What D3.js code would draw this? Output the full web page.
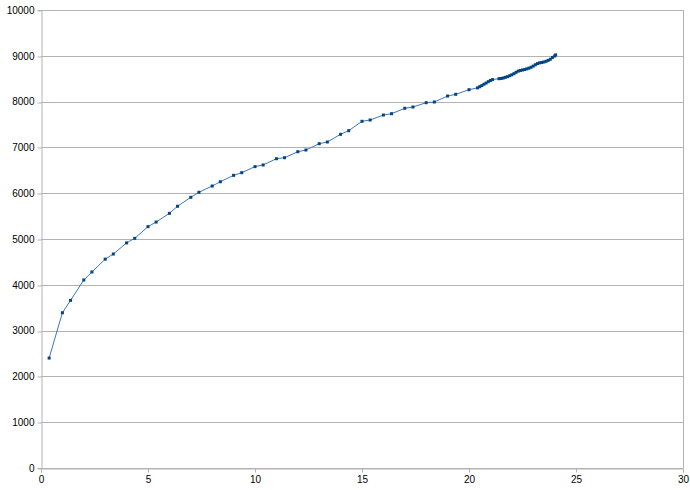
<!DOCTYPE html>
<html><head><meta charset="utf-8">
<script src="https://cdn.jsdelivr.net/npm/d3@7"></script>
<style>
html,body{margin:0;padding:0;background:#fff;}
svg{display:block;}
</style></head>
<body>
<svg id="chart" width="690" height="490"></svg>
<script>
const xValues = [0.38,1.0,1.38,2.0,2.38,3.0,3.38,4.0,4.38,5.0,5.38,6.0,6.38,7.0,7.38,8.0,8.38,9.0,9.38,10.0,10.38,11.0,11.38,12.0,12.38,13.0,13.38,14.0,14.38,15.0,15.38,16.0,16.38,17.0,17.38,18.0,18.38,19.0,19.38,20.0,
  20.4,20.5,20.6,20.7,20.8,20.9,21.0,21.1,
  21.4,21.5,21.6,21.7,21.8,21.9,22.0,22.1,22.2,22.3,22.4,22.5,22.6,22.7,22.8,22.9,23.0,23.1,23.2,23.3,23.4,23.5,23.6,23.7,23.8,23.9,24.0,24.05];
const yValues = [2400,3390,3660,4105,4280,4560,4672,4915,5015,5270,5370,5560,5715,5910,6020,6157,6250,6390,6448,6580,6616,6753,6775,6906,6943,7081,7118,7286,7365,7570,7598,7707,7736,7854,7882,7976,7991,8122,8159,8260,
  8300,8325,8350,8380,8405,8435,8460,8480,
  8500,8505,8515,8530,8545,8565,8585,8610,8640,8665,8680,8690,8700,8715,8730,8750,8775,8805,8830,8845,8855,8865,8880,8900,8925,8965,8995,9020];
const xTicks = [0,5,10,15,20,25,30];
const yTicks = [0,1000,2000,3000,4000,5000,6000,7000,8000,9000,10000];

const svg = d3.select("#chart");
const x = d3.scaleLinear().domain([0,30]).range([41,683]);
const y = d3.scaleLinear().domain([0,10000]).range([468,10]);
const grey = "#b3b3b3";

// gridlines
svg.append("g").selectAll("line").data(yTicks).join("line")
  .attr("x1", x(0)).attr("x2", x(30))
  .attr("y1", d => Math.round(y(d)) + 0.5).attr("y2", d => Math.round(y(d)) + 0.5)
  .attr("stroke", grey).attr("stroke-width", 1);

// right border
svg.append("line").attr("x1", Math.round(x(30)) + 0.5).attr("x2", Math.round(x(30)) + 0.5)
  .attr("y1", y(10000)).attr("y2", y(0)).attr("stroke", grey);

// axes
const xAxis = d3.axisBottom(x).tickValues(xTicks).tickSize(4).tickPadding(3).tickFormat(d3.format("d"));
const yAxis = d3.axisLeft(y).tickValues(yTicks).tickSize(4).tickPadding(3).tickFormat(d3.format("d"));
const gx = svg.append("g").attr("transform", `translate(0,${Math.round(y(0))+0.5})`).call(xAxis);
const gy = svg.append("g").attr("transform", `translate(${Math.round(x(0))+0.5},0)`).call(yAxis);
[gx, gy].forEach(g => {
  g.select(".domain").attr("stroke", grey);
  g.selectAll(".tick line").attr("stroke", grey);
  g.selectAll(".tick text").attr("fill", "#000").attr("font-family", "Liberation Sans, Arial, sans-serif").attr("font-size", "10px");
});
gy.selectAll(".tick line").attr("transform", d => `translate(0,${Math.round(y(d)) + 0.5 - y(d)})`);

// series
const data = xValues.map((v, i) => [v, yValues[i]]);
svg.append("path").datum(data)
  .attr("fill", "none").attr("stroke", "#3f77bb").attr("stroke-width", 1)
  .attr("d", d3.line().x(d => x(d[0])).y(d => y(d[1])));
svg.append("g").selectAll("rect").data(data).join("rect")
  .attr("x", d => x(d[0]) - 1.5).attr("y", d => y(d[1]) - 1.5)
  .attr("width", 3).attr("height", 3).attr("fill", "#004586");
</script>
</body></html>
